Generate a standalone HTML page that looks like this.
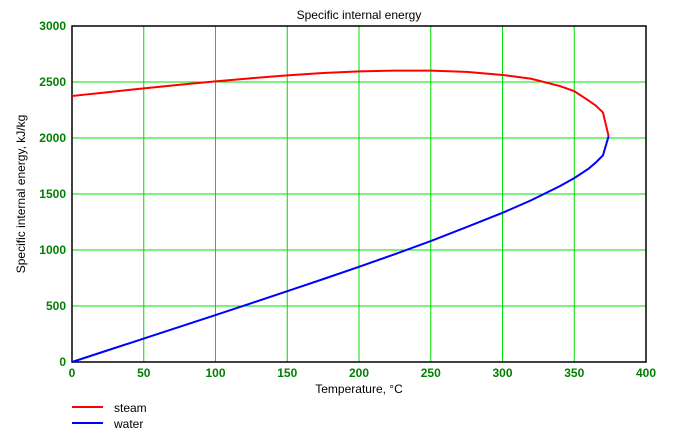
<!DOCTYPE html>
<html><head><meta charset="utf-8"><style>
body{margin:0;background:#fff;font-family:"Liberation Sans",sans-serif}
svg text{font-family:"Liberation Sans",sans-serif}
</style></head><body>
<svg id="c" width="675" height="438"></svg>
<script>
const xTicks=[0,50,100,150,200,250,300,350,400];
const yTicks=[0,500,1000,1500,2000,2500,3000];
const steamT=[0.01,10,20,40,50,75,100,125,150,175,200,225,250,275,300,320,340,350,360,365,370,373.95];
const steamU=[2375,2389,2402,2430,2443,2475,2506,2534,2559,2580,2595,2602,2602,2590,2563,2529,2464,2418,2334,2290,2228,2016];
const waterT=[0.01,25,50,75,100,125,150,175,200,225,250,275,300,320,340,350,360,365,370,373.95];
const waterU=[0,105,209,314,419,525,632,740,850,963,1080,1205,1332,1444,1570,1642,1726,1781,1845,2016];
const L=72,R=646,T=26,B=362;
const sx=v=>L+(v-0)/400*(R-L), sy=v=>B-v/3000*(B-T);
const svg=document.getElementById('c');const NS='http://www.w3.org/2000/svg';
function mk(t,a,p){const e=document.createElementNS(NS,t);for(const k in a)e.setAttribute(k,a[k]);(p||svg).appendChild(e);return e;}
xTicks.forEach(v=>{const l=mk('line',{x1:sx(v),x2:sx(v),y1:T,y2:B,stroke:'#00dd00','stroke-width':1});


const t=mk('text',{x:sx(v),y:B+15,'text-anchor':'middle','font-size':12,'font-weight':'bold',fill:'#008000'});t.textContent=v;

});
yTicks.forEach(v=>{const l=mk('line',{x1:L,x2:R,y1:sy(v),y2:sy(v),stroke:'#00dd00','stroke-width':1});


const t=mk('text',{x:L-6,y:sy(v)+4,'text-anchor':'end','font-size':12,'font-weight':'bold',fill:'#008000'});t.textContent=v;

});
const box=mk('rect',{x:L,y:T,width:R-L,height:B-T,fill:'none',stroke:'#000','stroke-width':1.5});


function series(xs,ys,c,n){const p=mk('polyline',{points:xs.map((x,i)=>sx(x)+','+sy(ys[i])).join(' '),fill:'none',stroke:c,'stroke-width':2});

}
series(steamT,steamU,'#ff0000','steam-line');
series(waterT,waterU,'#0000ff','water-line');
const tt=mk('text',{x:359,y:19,'text-anchor':'middle','font-size':12});tt.textContent='Specific internal energy';


const xl=mk('text',{x:359,y:393,'text-anchor':'middle','font-size':12});xl.textContent='Temperature, °C';


const yl=mk('text',{x:0,y:0,'text-anchor':'middle','font-size':12,transform:'translate(25,194) rotate(-90)'});yl.textContent='Specific internal energy, kJ/kg';


[['steam','#ff0000',407],['water','#0000ff',423]].forEach(([n,c,y])=>{const g=mk('g',{});


mk('line',{x1:72,x2:103,y1:y,y2:y,stroke:c,'stroke-width':2},g);
const t=mk('text',{x:114,y:y+5,'font-size':12},g);t.textContent=n;});
</script>
</body></html>
